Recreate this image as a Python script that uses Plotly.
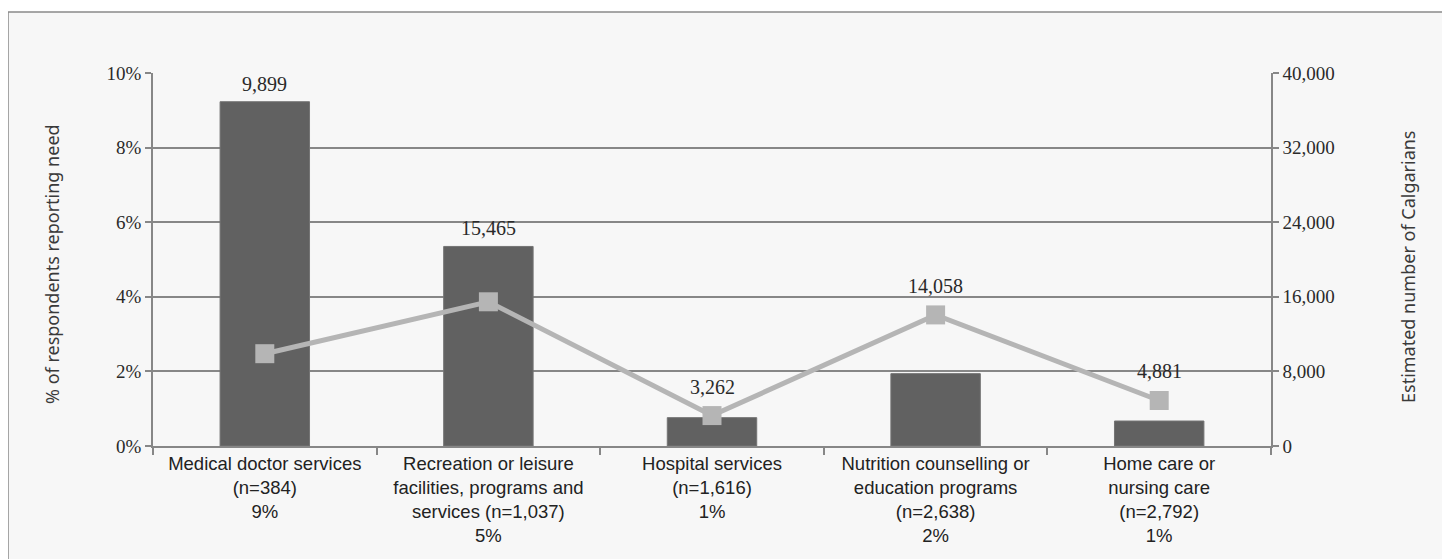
import plotly.graph_objects as go

categories = [
    "Medical doctor services<br>(n=384)<br>9%",
    "Recreation or leisure<br>facilities, programs and<br>services (n=1,037)<br>5%",
    "Hospital services<br>(n=1,616)<br>1%",
    "Nutrition counselling or<br>education programs<br>(n=2,638)<br>2%",
    "Home care or<br>nursing care<br>(n=2,792)<br>1%",
]
pct_need = [9.23, 5.35, 0.76, 1.94, 0.67]
est_calgarians = [9899, 15465, 3262, 14058, 4881]
y_ticks = [0, 2, 4, 6, 8, 10]
y2_ticks = [0, 8000, 16000, 24000, 32000, 40000]

Y_MAX = 10
Y2_MAX = 40000

# page offset (browser body margin)
OFF = 8
W, H = 1450 - OFF, 559 - OFF
ML, MR, MT, MB = 153 - OFF, 179, 73 - OFF, 113
PW, PH = W - ML - MR, H - MT - MB


def px_to_paper_x(page_px):
    return (page_px - OFF - ML) / PW


def px_to_paper_y(page_py):
    return (H - MB - (page_py - OFF)) / PH


serif = "Liberation Serif, Times New Roman, serif"
catfont = "Liberation Sans, Arial, sans-serif"
sans = "Noto Sans, Open Sans, DejaVu Sans, sans-serif"
grid_col = "#878787"

fig = go.Figure()
fig.add_trace(go.Bar(
    x=categories, y=pct_need, yaxis="y",
    marker=dict(color="#616161", line=dict(color="#747474", width=1)),
    width=0.4, hoverinfo="skip",
))
fig.add_trace(go.Scatter(
    x=categories, y=est_calgarians, yaxis="y2", mode="lines+markers",
    line=dict(color="#b5b5b5", width=5),
    marker=dict(symbol="square", size=19, color="#b5b5b5"),
    hoverinfo="skip",
))

annotations = []
for c, p, v in zip(categories, pct_need, est_calgarians):
    line_pct = v / Y2_MAX * Y_MAX
    if p > line_pct + 1:
        annotations.append(dict(x=c, y=p, xref="x", yref="y", text=f"{v:,}",
                                showarrow=False, yshift=18, yanchor="middle",
                                font=dict(family=serif, size=20, color="#2a2a2a")))
    else:
        annotations.append(dict(x=c, y=v, xref="x", yref="y2", text=f"{v:,}",
                                showarrow=False, yshift=29, yanchor="middle",
                                font=dict(family=serif, size=20, color="#2a2a2a")))

annotations.append(dict(
    x=px_to_paper_x(52), y=px_to_paper_y(264), xref="paper", yref="paper",
    text="% of respondents reporting need", textangle=-90, showarrow=False,
    xanchor="center", yanchor="middle",
    font=dict(family=sans, size=18, color="#3a3a3a")))
annotations.append(dict(
    x=px_to_paper_x(1408), y=px_to_paper_y(267), xref="paper", yref="paper",
    text="Estimated number of Calgarians", textangle=-90, showarrow=False,
    xanchor="center", yanchor="middle",
    font=dict(family=sans, size=18, color="#3a3a3a")))

shapes = [dict(
    type="rect", xref="paper", yref="paper", layer="below",
    x0=px_to_paper_x(8), x1=px_to_paper_x(1447),
    y0=px_to_paper_y(580), y1=px_to_paper_y(12),
    line=dict(color="#8a8a8a", width=1.5), fillcolor="#f7f7f7",
)]

fig.update_layout(
    width=W, height=H,
    margin=dict(l=ML, r=MR, t=MT, b=MB, autoexpand=False),
    paper_bgcolor="white", plot_bgcolor="#f7f7f7",
    showlegend=False,
    bargap=0.6,
    xaxis=dict(
        type="category", showline=True, linecolor=grid_col, linewidth=1.5,
        ticks="outside", tickson="boundaries", ticklen=7, tickcolor=grid_col,
        tickwidth=1.5, showgrid=False,
        tickfont=dict(family=catfont, size=18.5, color="#222222"),
    ),
    yaxis=dict(
        range=[0, Y_MAX], tickvals=y_ticks, ticktext=[f"{t}%" for t in y_ticks],
        showline=True, linecolor=grid_col, linewidth=1.5,
        ticks="outside", ticklen=6, tickcolor=grid_col, tickwidth=1.5,
        showgrid=True, gridcolor=grid_col, gridwidth=1.5, zeroline=False,
        tickfont=dict(family=serif, size=19, color="#2a2a2a"),
    ),
    yaxis2=dict(
        range=[0, Y2_MAX], tickvals=y2_ticks, ticktext=[f"{t:,}" for t in y2_ticks],
        overlaying="y", side="right",
        showline=True, linecolor=grid_col, linewidth=1.5,
        ticks="outside", ticklen=6, tickcolor=grid_col, tickwidth=1.5,
        showgrid=False, zeroline=False,
        tickfont=dict(family=serif, size=19, color="#2a2a2a"),
    ),
    annotations=annotations,
    shapes=shapes,
)

fig.write_html("out.html")
